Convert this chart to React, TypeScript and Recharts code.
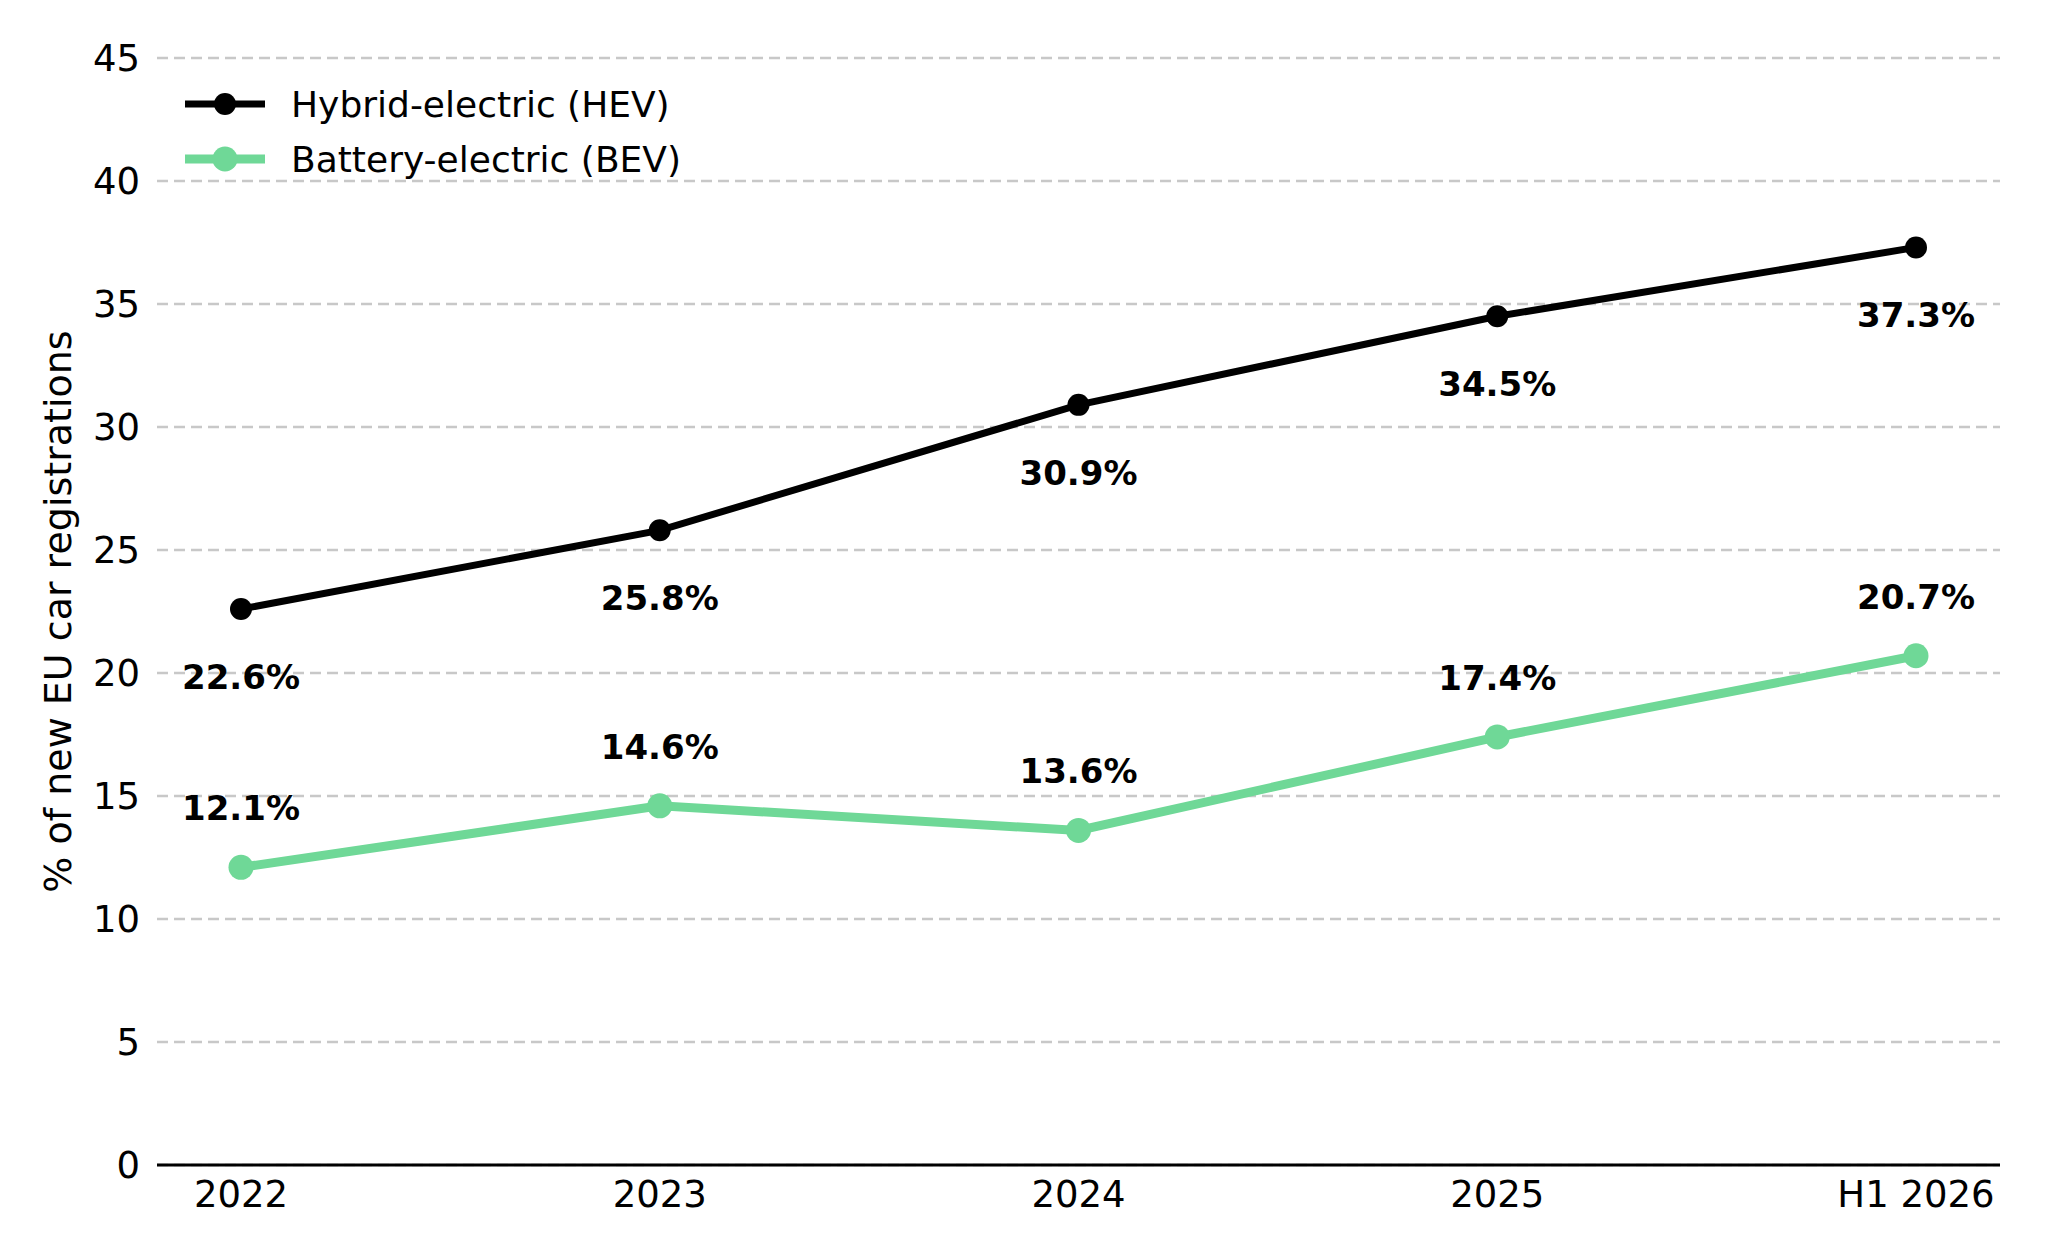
import React from 'react';
import { LineChart, Line, XAxis, YAxis, CartesianGrid, LabelList } from 'recharts';

const categories = ['2022', '2023', '2024', '2025', 'H1 2026'];
const hevValues = [22.6, 25.8, 30.9, 34.5, 37.3];
const bevValues = [12.1, 14.6, 13.6, 17.4, 20.7];
const yTicks = [0, 5, 10, 15, 20, 25, 30, 35, 40, 45];

const HEV_COLOR = '#000000';
const BEV_COLOR = '#6fd897';
const FONT = '"DejaVu Sans", sans-serif';

const data = categories.map((name, i) => ({ name, hev: hevValues[i], bev: bevValues[i] }));

if (typeof document !== 'undefined') {
  document.body.style.margin = '0';
}

const makeLabel = (dy: number) => (props: any) => {
  const { x, y, value } = props;
  return (
    <text
      x={x}
      y={y + dy}
      textAnchor="middle"
      dominantBaseline="central"
      fontFamily={FONT}
      fontWeight="bold"
      fontSize={34}
      fill="#000"
    >
      {`${Number(value).toFixed(1)}%`}
    </text>
  );
};

const legendItems = [
  { label: 'Hybrid-electric (HEV)', color: HEV_COLOR, width: 7, r: 11 },
  { label: 'Battery-electric (BEV)', color: BEV_COLOR, width: 9, r: 12.5 },
];

// legend drawn as an overlay so it does not push the plot area down
const LegendOverlay = () => (
  <svg width={560} height={140} style={{ position: 'absolute', top: 58, left: 157, overflow: 'visible' }}>
    {legendItems.map((item, i) => {
      const cy = 46 + i * 55;
      return (
        <g key={item.label}>
          <line x1={28} x2={108} y1={cy} y2={cy} stroke={item.color} strokeWidth={item.width} />
          <circle cx={68} cy={cy} r={item.r} fill={item.color} />
          <text x={134} y={cy} dominantBaseline="central" fontFamily={FONT} fontSize={36} fill="#000">
            {item.label}
          </text>
        </g>
      );
    })}
  </svg>
);

const YLabel = (props: any) => {
  const vb = props.viewBox || {};
  const cy = (vb.y || 0) + (vb.height || 0) / 2;
  return (
    <text
      x={58}
      y={cy}
      transform={`rotate(-90, 58, ${cy})`}
      textAnchor="middle"
      dominantBaseline="central"
      fontFamily={FONT}
      fontSize={38}
      fill="#000"
    >
      % of new EU car registrations
    </text>
  );
};

const App: React.FC = () => {
  return (
    <div style={{ position: 'relative', width: 2048, height: 1256, background: '#fff' }}>
      <LineChart width={2048} height={1256} data={data} margin={{ top: 58, right: 48, bottom: 61, left: 0 }}>
        <CartesianGrid horizontal vertical={false} stroke="#c8c8c8" strokeWidth={2.5} strokeDasharray="11 6" />
        <XAxis
          dataKey="name"
          type="category"
          height={30}
          padding={{ left: 84, right: 84 }}
          axisLine={{ stroke: '#000', strokeWidth: 3 }}
          tickLine={false}
          tickSize={0}
          tickMargin={16}
          tick={{ fontFamily: FONT, fontSize: 37, fill: '#000' }}
          interval={0}
        />
        <YAxis
          domain={[0, 45]}
          ticks={yTicks}
          width={157}
          axisLine={false}
          tickLine={false}
          tickSize={0}
          tickMargin={17}
          tick={{ fontFamily: FONT, fontSize: 37, fill: '#000' }}
          label={YLabel}
        />
        <Line
          dataKey="hev"
          stroke={HEV_COLOR}
          strokeWidth={7}
          dot={{ r: 11, fill: HEV_COLOR, stroke: HEV_COLOR, strokeWidth: 0 }}
          activeDot={false}
          isAnimationActive={false}
        >
          <LabelList dataKey="hev" content={makeLabel(68)} />
        </Line>
        <Line
          dataKey="bev"
          stroke={BEV_COLOR}
          strokeWidth={9}
          dot={{ r: 12.5, fill: BEV_COLOR, stroke: BEV_COLOR, strokeWidth: 0 }}
          activeDot={false}
          isAnimationActive={false}
        >
          <LabelList dataKey="bev" content={makeLabel(-59)} />
        </Line>
      </LineChart>
      <LegendOverlay />
    </div>
  );
};

export default App;
